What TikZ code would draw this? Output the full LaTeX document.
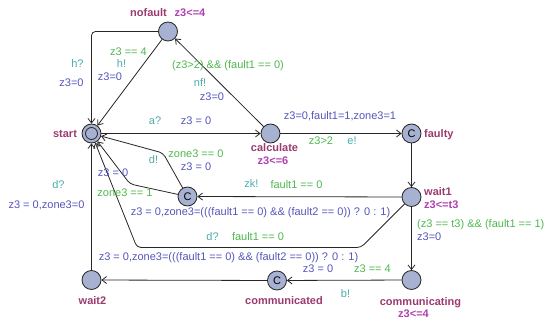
\documentclass[tikz,border=0pt]{standalone}
\usepackage{fontspec}
\setmainfont{Liberation Sans}
\usetikzlibrary{arrows.meta}
\definecolor{locfill}{HTML}{A7B1D2}
\definecolor{namec}{HTML}{9B3A6E}
\definecolor{invc}{HTML}{B040B0}
\definecolor{guardc}{HTML}{4DB84D}
\definecolor{syncc}{HTML}{4AACAC}
\definecolor{updc}{HTML}{5555BB}
\begin{document}
\begin{tikzpicture}[x=1pt,y=-1pt,
  font=\fontsize{11}{13}\selectfont,
  loc/.style={circle,draw=black!85,fill=locfill,minimum size=19pt,inner sep=0pt,line width=0.8pt},
  edge/.style={draw=black!85,line width=0.8pt,-{Straight Barb[length=4.5pt,width=7pt]},rounded corners=4pt},
  lbl/.style={inner sep=0pt,text height=7.9pt,text depth=0pt},
  nm/.style={lbl,text=namec,font=\fontsize{11}{13}\selectfont\bfseries},
  inv/.style={lbl,text=invc,font=\fontsize{11}{13}\selectfont\bfseries},
  grd/.style={lbl,text=guardc},
  syn/.style={lbl,text=syncc},
  upd/.style={lbl,text=updc}]
\path[use as bounding box] (0,0) rectangle (546,320);

% locations
\node[loc] (start) at (91.5,133.5) {};
\node[circle,draw=black!85,line width=0.8pt,minimum size=12pt,inner sep=0pt] (startin) at (start) {};
\node[loc] (nofault) at (168,31.5) {};
\node[loc] (calc) at (270.5,133.5) {};
\node[loc] (faulty) at (411.5,133.5) {C};
\node[loc] (wait1) at (411.5,197) {};
\node[loc] (cm) at (187.5,196.5) {C};
\node[loc] (comming) at (411.5,280) {};
\node[loc] (commed) at (277,280.5) {C};
\node[loc] (wait2) at (91.5,280) {};

% location names and invariants
\node[nm] (nstart) at (65,134) {start};
\node[nm] (nnofault) at (148.5,13) {nofault};
\node[inv] (inofault) at (190,13) {z3<=4};
\node[nm] (ncalc) at (274.5,147.5) {calculate};
\node[inv] (icalc) at (273,161) {z3<=6};
\node[nm,anchor=west] (nfaulty) at (424,134) {faulty};
\node[nm,anchor=west] (nwait1) at (424,192) {wait1};
\node[inv,anchor=west] (iwait1) at (424,205) {z3<=t3};
\node[nm] (ncomming) at (420.5,302) {communicating};
\node[inv] (icomming) at (413.5,313.5) {z3<=4};
\node[nm] (ncommed) at (284,301) {communicated};
\node[nm] (nwait2) at (92.5,301) {wait2};

% edges
\draw[edge] (nofault.west) -| (start.north);
\draw[edge] (nofault) -- (start);
\draw[edge] (calc) -- (nofault);
\draw[edge] (start) -- (calc);
\draw[edge] (calc) -- (faulty);
\draw[edge] (faulty) -- (wait1);
\draw[edge] (wait1) -- (cm);
\coordinate (a1) at (163,153);
\draw[edge] (cm) -- (a1) -- (start);
\coordinate (b1) at (130,184);
\draw[edge] (cm) -- (b1) -- (start);
\coordinate (c1) at (361,247.5);
\coordinate (c2) at (137,247.5);
\draw[edge] (wait1) -- (c1) -- (c2) -- (start);
\draw[edge] (wait1) -- (comming);
\draw[edge] (comming) -- (commed);
\draw[edge] (commed) -- (wait2);
\draw[edge] (wait2) -- (start);

% edge labels
\node[syn] (l1) at (77.5,64) {h?};
\node[upd] (l2) at (71.5,83) {z3=0};
\node[grd] (l3) at (128.5,52) {z3 == 4};
\node[syn] (l4) at (121.5,64) {h!};
\node[upd] (l5) at (110,77) {z3=0};
\node[grd] (l6) at (228,65) {(z3>2) \&\& (fault1 == 0)};
\node[syn] (l7) at (200,83) {nf!};
\node[upd] (l8) at (212,97) {z3=0};
\node[syn] (l9) at (155,121) {a?};
\node[upd] (l10) at (196,121) {z3 = 0};
\node[upd] (l11) at (340,116) {z3=0,fault1=1,zone3=1};
\node[grd] (l12) at (321,141) {z3>2};
\node[syn] (l13) at (352,141) {e!};
\node[syn] (l14) at (251.5,184) {zk!};
\node[grd] (l15) at (296.5,185) {fault1 == 0};
\node[upd] (l16) at (260.5,212) {z3 = 0,zone3=(((fault1 == 0) \&\& (fault2 == 0)) ? 0 : 1)};
\node[grd] (l17) at (196,154) {zone3 == 0};
\node[upd] (l18) at (196,167) {z3 = 0};
\node[syn] (l19) at (153.5,160) {d!};
\node[upd] (l20) at (113,173) {z3 = 0};
\node[grd] (l21) at (125,193) {zone3 == 1};
\node[syn] (l22) at (212.5,237) {d?};
\node[grd] (l23) at (258,237) {fault1 == 0};
\node[upd] (l24) at (228.5,257) {z3 = 0,zone3=(((fault1 == 0) \&\& (fault2 == 0)) ? 0 : 1)};
\node[grd,anchor=west] (l25) at (417,224) {(z3 == t3) \&\& (fault1 == 1)};
\node[upd,anchor=west] (l26) at (417,237) {z3=0};
\node[upd] (l27) at (318,269) {z3 = 0};
\node[grd] (l28) at (372.5,269) {z3 == 4};
\node[syn] (l29) at (345.5,294) {b!};
\node[syn] (l30) at (58.5,185) {d?};
\node[upd] (l31) at (46.5,205) {z3 = 0,zone3=0};
\end{tikzpicture}
\end{document}
